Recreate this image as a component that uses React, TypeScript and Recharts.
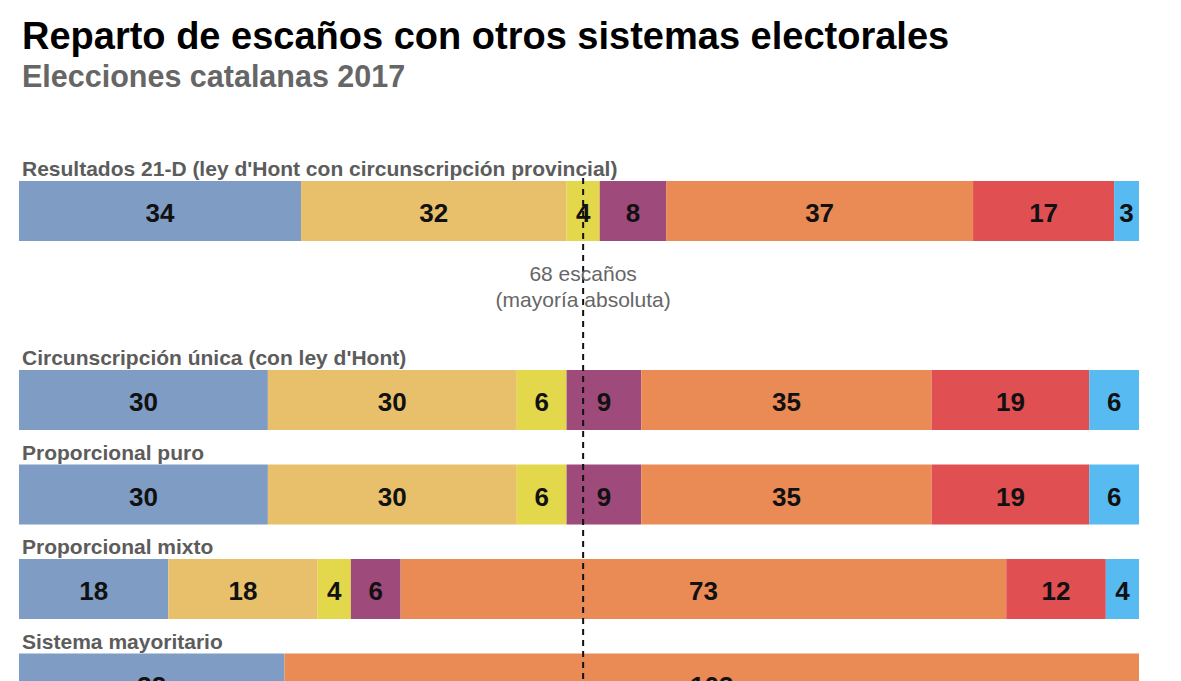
import { BarChart, Bar, XAxis, YAxis, LabelList, ReferenceLine } from 'recharts';

// Sistemas (filas) y escaños por partido
const systems = [
  "Resultados 21-D (ley d'Hont con circunscripción provincial)",
  "Circunscripción única (con ley d'Hont)",
  'Proporcional puro',
  'Proporcional mixto',
  'Sistema mayoritario',
];

const jxcat = [34, 30, 30, 18, 32];
const erc = [32, 30, 30, 18, 0];
const cup = [4, 6, 6, 4, 0];
const comuns = [8, 9, 9, 6, 0];
const cs = [37, 35, 35, 73, 103];
const psc = [17, 19, 19, 12, 0];
const pp = [3, 6, 6, 4, 0];

const MAJORITY = 68;
const TOTAL = 135;

const SERIES = [
  { key: 'jxcat', values: jxcat, color: '#7f9dc4' },
  { key: 'erc', values: erc, color: '#e8c06c' },
  { key: 'cup', values: cup, color: '#e3d84b' },
  { key: 'comuns', values: comuns, color: '#9e4a7b' },
  { key: 'cs', values: cs, color: '#ea8a55' },
  { key: 'psc', values: psc, color: '#e04f51' },
  { key: 'pp', values: pp, color: '#57bbf2' },
];

// filas; hueco vacío tras la primera para la nota de mayoría
const rows: any[] = [];
systems.forEach((name, i) => {
  const row: any = { name };
  SERIES.forEach((s) => {
    row[s.key] = s.values[i] || null;
  });
  rows.push(row);
  if (i === 0) rows.push({ name: '' });
});

const FONT = '"Liberation Sans", Arial, Helvetica, sans-serif';

// nombre del sistema encima de cada barra
const RowLabel = ({ y, value }: any) => {
  if (!value) return null;
  return (
    <text x={22} y={y - 5} fill="#5c5c5c" fontSize={21} fontWeight="bold" fontFamily={FONT}>
      {value}
    </text>
  );
};

const ValueLabel = ({ x, y, width, height, value }: any) => {
  if (!value) return null;
  return (
    <text
      x={x + width / 2}
      y={y + height / 2 + 11}
      textAnchor="middle"
      fill="#111"
      fontSize={26}
      fontWeight="bold"
      fontFamily={FONT}
    >
      {value}
    </text>
  );
};

const MajorityNote = ({ viewBox }: any) => {
  const { x, y } = viewBox;
  return (
    <g fontFamily={FONT} fontSize={21} fill="#666" textAnchor="middle">
      <text x={x} y={y + 117}>{MAJORITY} escaños</text>
      <text x={x} y={y + 143}>(mayoría absoluta)</text>
    </g>
  );
};

const DashedLine = (p: any) => (
  <line
    x1={p.x1}
    y1={Math.min(p.y1, p.y2) + 14}
    x2={p.x2}
    y2={Math.max(p.y1, p.y2)}
    stroke="#111"
    strokeWidth={2}
    strokeDasharray="6 5"
  />
);

export default function App() {
  return (
    <div
      style={{
        position: 'absolute',
        left: 0,
        top: 0,
        width: 1181,
        height: 681,
        overflow: 'hidden',
        background: '#fff',
        fontFamily: FONT,
      }}
    >
      <div style={{ position: 'absolute', left: 22, top: 15, fontSize: 38, fontWeight: 'bold', color: '#000', whiteSpace: 'nowrap' }}>
        Reparto de escaños con otros sistemas electorales
      </div>
      <div style={{ position: 'absolute', left: 22, top: 59, fontSize: 30.5, fontWeight: 'bold', color: '#666', whiteSpace: 'nowrap' }}>
        Elecciones catalanas 2017
      </div>
      <div style={{ position: 'absolute', left: 0, top: 0 }}>
        <BarChart
          width={1181}
          height={731}
          data={rows}
          layout="vertical"
          margin={{ top: 164, right: 42, bottom: 0, left: 19 }}
          barSize={60}
        >
          <XAxis type="number" domain={[0, TOTAL]} hide />
          <YAxis type="category" dataKey="name" hide />
          {SERIES.map((s, i) => (
            <Bar key={s.key} dataKey={s.key} stackId="a" fill={s.color} isAnimationActive={false}>
              <LabelList dataKey={s.key} content={<ValueLabel />} />
              {i === 0 && <LabelList dataKey="name" content={<RowLabel />} />}
            </Bar>
          ))}
          <ReferenceLine x={MAJORITY} shape={<DashedLine />} label={<MajorityNote />} />
        </BarChart>
      </div>
    </div>
  );
}
